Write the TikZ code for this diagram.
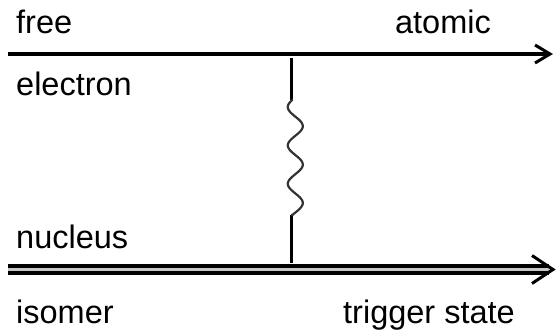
\documentclass[tikz,border=0pt]{standalone}
\usepackage{fontspec}
\setmainfont{Liberation Sans}
\usetikzlibrary{calc}
\begin{document}
\begin{tikzpicture}[x=1pt,y=-1pt,
  label text/.style={inner sep=0pt, font=\fontsize{32.5}{38}\selectfont},
  electron line/.style={line width=3.2pt},
  nucleus line/.style={line width=3.4pt, double distance=3.6pt, double=gray!45},
  tip/.style={line width=3pt, line join=miter, miter limit=10},
  exchange/.style={line width=3pt},
  photon/.style={line width=2.2pt, black!80, line join=round}]
  \useasboundingbox (0,0) rectangle (556,332);

  % end points of the two particle lines
  \coordinate (e0) at (8,54);
  \coordinate (e1) at (550,54);
  \coordinate (n0) at (8,269.5);
  \coordinate (n1) at (549,269.5);

  % electron line with open arrow head
  \draw[electron line] (e0) -- (e1);
  \draw[tip] ($(e1)+(-15,-9)$) -- (e1) -- ($(e1)+(-15,9)$);

  % nucleus line (double) with open arrow head
  \draw[nucleus line] (n0) -- (n1);
  \coordinate (nt) at (553,269.5);
  \draw[tip] ($(nt)+(-21,-14)$) -- (nt) -- ($(nt)+(-21,14)$);

  % exchanged virtual photon between the lines (period 38.4: 360/38.4 = 9.375)
  \coordinate (va) at (291,58);
  \coordinate (w1) at (291,100);
  \coordinate (w2) at (291,215);
  \coordinate (vb) at (291,263);
  \draw[exchange] (va) -- (w1);
  \draw[exchange] (w2) -- (vb);
  \draw[photon] (w1) -- plot[domain=100:215, samples=120]
        ({295.3-7.5*cos(9.375*(\x-107))}, \x) -- (w2);

  % labels
  \node[label text, anchor=base west] (free) at (16,33) {free};
  \node[label text, anchor=base east] (atomic) at (491,33) {atomic};
  \node[label text, anchor=base west] (electron) at (16,95) {electron};
  \node[label text, anchor=base west] (nucleus) at (16,248) {nucleus};
  \node[label text, anchor=base west] (isomer) at (16,323) {isomer};
  \node[label text, anchor=base west] (trigger) at (343,323) {trigger state};
\end{tikzpicture}
\end{document}
